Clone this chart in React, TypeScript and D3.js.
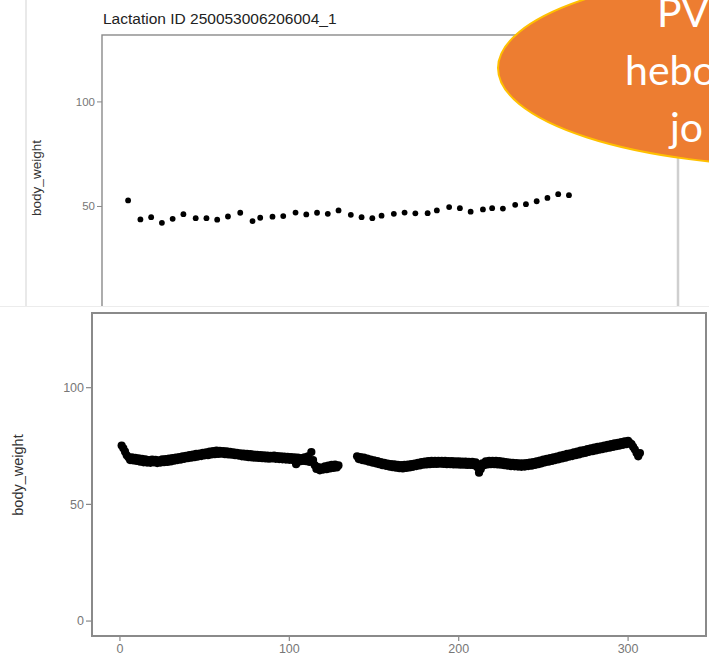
import React from 'react';
import * as d3 from 'd3';

const W = 709;
const H = 656;

// ---------- top (partially hidden) chart ----------
const topTitle = 'Lactation ID 250053006206004_1';
const topDays = [7, 15, 22, 29, 36, 43, 51, 58, 65, 72, 80, 88, 93, 101, 108, 116, 123, 130, 137, 144,
  152, 159, 166, 172, 180, 187, 194, 202, 208, 216, 223, 230, 238, 244, 251, 259, 266, 273, 280, 287, 294];
const topWeights = [52.9, 43.8, 44.9, 42.2, 44.1, 46.3, 44.4, 44.4, 43.7, 45.2, 47.0, 43.0, 44.6, 45.1, 45.4, 47.1, 46.2, 47.0, 46.5, 48.1,
  46.0, 44.9, 44.4, 45.6, 46.5, 47.1, 46.7, 46.8, 48.1, 49.7, 49.2, 47.5, 48.6, 49.2, 49.0, 50.8, 51.1, 52.5, 54.1, 55.9, 55.4];
const topYTicks = [0, 50, 100];

// ---------- bottom chart: daily body weight ----------
const bottomSeg1Start = 1; // day of first value in segment 1
const bottomSeg1 = [
  75.2, 74.0, 72.6, 71.0, 70.2, 69.0, 70.1, 68.8, 69.9, 68.6,
  69.7, 68.3, 69.5, 68.0, 69.3, 67.9, 69.0, 67.8, 69.2, 68.0,
  69.1, 67.7, 68.9, 67.9, 69.3, 68.1, 69.4, 68.2, 69.6, 68.4,
  69.8, 68.7, 70.0, 69.0, 70.3, 69.2, 70.6, 69.5, 70.8, 69.8,
  71.1, 70.0, 71.3, 70.2, 71.6, 70.5, 71.8, 70.7, 72.1, 71.0,
  72.3, 71.1, 72.6, 71.4, 72.8, 71.5, 73.0, 71.6, 72.9, 71.7,
  72.8, 71.5, 72.7, 71.4, 72.5, 71.3, 72.3, 71.1, 72.1, 70.9,
  71.9, 70.6, 71.8, 70.4, 71.6, 70.2, 71.5, 70.1, 71.3, 70.0,
  71.2, 69.9, 71.1, 69.8, 71.0, 69.7, 70.9, 69.6, 70.8, 69.7,
  70.9, 69.5, 70.7, 69.4, 70.6, 69.3, 70.5, 69.2, 70.4, 69.1,
  70.3, 69.0, 70.2, 67.2, 70.0, 68.4, 69.8, 68.6, 70.2, 68.5,
  70.6, 68.2, 72.4, 69.0, 66.8, 65.2, 66.0, 64.6, 65.8, 64.9,
  66.3, 65.1, 66.6, 65.4, 66.9, 65.6, 67.0, 65.8, 66.7,
];
const bottomSeg2Start = 140; // day of first value in segment 2
const bottomSeg2 = [
  70.6, 69.4, 70.3, 69.0, 70.0, 68.7, 69.6, 68.3, 69.2, 67.9,
  68.9, 67.6, 68.5, 67.2, 68.1, 66.8, 67.8, 66.5, 67.5, 66.2,
  67.3, 65.9, 67.1, 65.7, 66.9, 65.5, 66.8, 65.4, 66.9, 65.6,
  67.0, 65.8, 67.3, 66.1, 67.5, 66.4, 67.8, 66.7, 68.1, 67.0,
  68.3, 67.1, 68.5, 67.2, 68.6, 67.3, 68.6, 67.3, 68.7, 67.4,
  68.6, 67.3, 68.6, 67.2, 68.5, 67.2, 68.5, 67.1, 68.4, 67.1,
  68.4, 67.0, 68.3, 67.0, 68.3, 66.9, 68.2, 66.9, 68.2, 66.8,
  68.0, 65.9, 63.6, 65.0, 67.6, 66.8, 68.4, 67.1, 68.6, 67.2,
  68.7, 67.2, 68.6, 67.1, 68.5, 67.0, 68.3, 66.8, 68.1, 66.6,
  67.9, 66.4, 67.8, 66.3, 67.7, 66.2, 67.6, 66.1, 67.6, 66.2,
  67.7, 66.4, 67.9, 66.6, 68.1, 66.9, 68.4, 67.2, 68.8, 67.6,
  69.2, 68.0, 69.5, 68.3, 69.8, 68.6, 70.2, 69.0, 70.5, 69.3,
  70.9, 69.7, 71.2, 70.0, 71.6, 70.4, 71.9, 70.7, 72.3, 71.1,
  72.6, 71.4, 73.0, 71.8, 73.3, 72.1, 73.7, 72.5, 74.0, 72.8,
  74.3, 73.1, 74.6, 73.4, 74.9, 73.7, 75.2, 74.0, 75.5, 74.3,
  75.8, 74.6, 76.1, 74.9, 76.4, 75.2, 76.7, 75.5, 77.0, 75.8,
  77.2, 76.4, 75.8, 74.6, 73.5, 72.0, 70.6, 72.0,
];
const bottomXTicks = [0, 100, 200, 300];
const bottomYTicks = [0, 50, 100];
const yLabel = 'body_weight';

// ---------- callout ----------
const calloutLines = ['PV', 'hebo', 'jo'];

const FONT = '"Liberation Sans", Arial, Helvetica, sans-serif';

export default function App() {
  React.useEffect(() => {
    document.body.style.margin = '0';
  }, []);

  // top scales
  const tx = d3.scaleLinear().domain([-10, 365]).range([102, 678]);
  const ty = d3.scaleLinear().domain([-6.3, 132]).range([324.2, 35]);
  const topPts = topDays.map((d, i) => ({ d, w: topWeights[i] }));

  // bottom scales
  const bx = d3.scaleLinear().domain([-16.5, 346]).range([92, 706]);
  const by = d3.scaleLinear().domain([-6.4, 132]).range([636, 313]);
  const bottomPts = [
    ...bottomSeg1.map((w, i) => ({ d: bottomSeg1Start + i, w })),
    ...bottomSeg2.map((w, i) => ({ d: bottomSeg2Start + i, w })),
  ];

  const calloutX = [657, 625, 670];
  const calloutY = [27, 85, 142];

  return (
    <svg width={W} height={H} style={{ position: 'absolute', left: 0, top: 0, background: '#fff' }} fontFamily={FONT}>
      <rect x={0} y={0} width={W} height={H} fill="#fff" />
      {/* ===== top screenshot ===== */}
      <line x1={26} x2={26} y1={0} y2={306} stroke="#e2e2e2" strokeWidth={1.5} />
      <text x={103} y={24} fontSize={15.5} fill="#222">{topTitle}</text>
      <text transform={`translate(41,178) rotate(-90)`} textAnchor="middle" fontSize={13.5} fill="#333">{yLabel}</text>
      {topYTicks.map((t) => (
        <g key={'tt' + t}>
          <line x1={97} x2={102} y1={ty(t)} y2={ty(t)} stroke="#888" strokeWidth={1} />
          <text x={95} y={ty(t)} dy="0.35em" textAnchor="end" fontSize={11.5} fill="#777">{t}</text>
        </g>
      ))}
      <rect x={tx(-10)} y={ty(132)} width={tx(365) - tx(-10)} height={ty(-6.3) - ty(132)} fill="none" stroke="#8a8a8a" strokeWidth={1.4} />
      <line x1={678} x2={678} y1={35} y2={306} stroke="#cfcfcf" strokeWidth={2.5} />
      {topPts.map((p, i) => (
        <circle key={'tp' + i} cx={tx(p.d)} cy={ty(p.w)} r={2.9} fill="#000" />
      ))}

      {/* ===== bottom screenshot ===== */}
      <rect x={0} y={307} width={W} height={H - 307} fill="#fff" />
      <line x1={0} x2={W} y1={306.5} y2={306.5} stroke="#ececec" strokeWidth={1} />
      <text transform={`translate(23,475) rotate(-90)`} textAnchor="middle" fontSize={14.5} fill="#333">{yLabel}</text>
      {bottomYTicks.map((t) => (
        <g key={'by' + t}>
          <line x1={86} x2={92} y1={by(t)} y2={by(t)} stroke="#888" strokeWidth={1.2} />
          <text x={84} y={by(t)} dy="0.35em" textAnchor="end" fontSize={12.5} fill="#777">{t}</text>
        </g>
      ))}
      {bottomXTicks.map((t) => (
        <g key={'bx' + t}>
          <line x1={bx(t)} x2={bx(t)} y1={636} y2={641} stroke="#888" strokeWidth={1.2} />
          <text x={bx(t)} y={653} textAnchor="middle" fontSize={12.5} fill="#777">{t}</text>
        </g>
      ))}
      <rect x={bx(-16.5)} y={by(132)} width={bx(346) - bx(-16.5)} height={by(-6.4) - by(132)} fill="none" stroke="#8a8a8a" strokeWidth={2} />
      {bottomPts.map((p, i) => (
        <circle key={'bp' + i} cx={bx(p.d)} cy={by(p.w)} r={4.1} fill="#000" />
      ))}

      {/* ===== callout ellipse ===== */}
      <ellipse cx={800} cy={68} rx={302} ry={98} fill="#ED7D31" stroke="#FFC000" strokeWidth={2} />
      {calloutLines.map((s, i) => (
        <text key={'c' + i} x={calloutX[i]} y={calloutY[i]} fontSize={41} fill="#fff" fontFamily='Lato, "Open Sans", sans-serif'>{s}</text>
      ))}
    </svg>
  );
}
